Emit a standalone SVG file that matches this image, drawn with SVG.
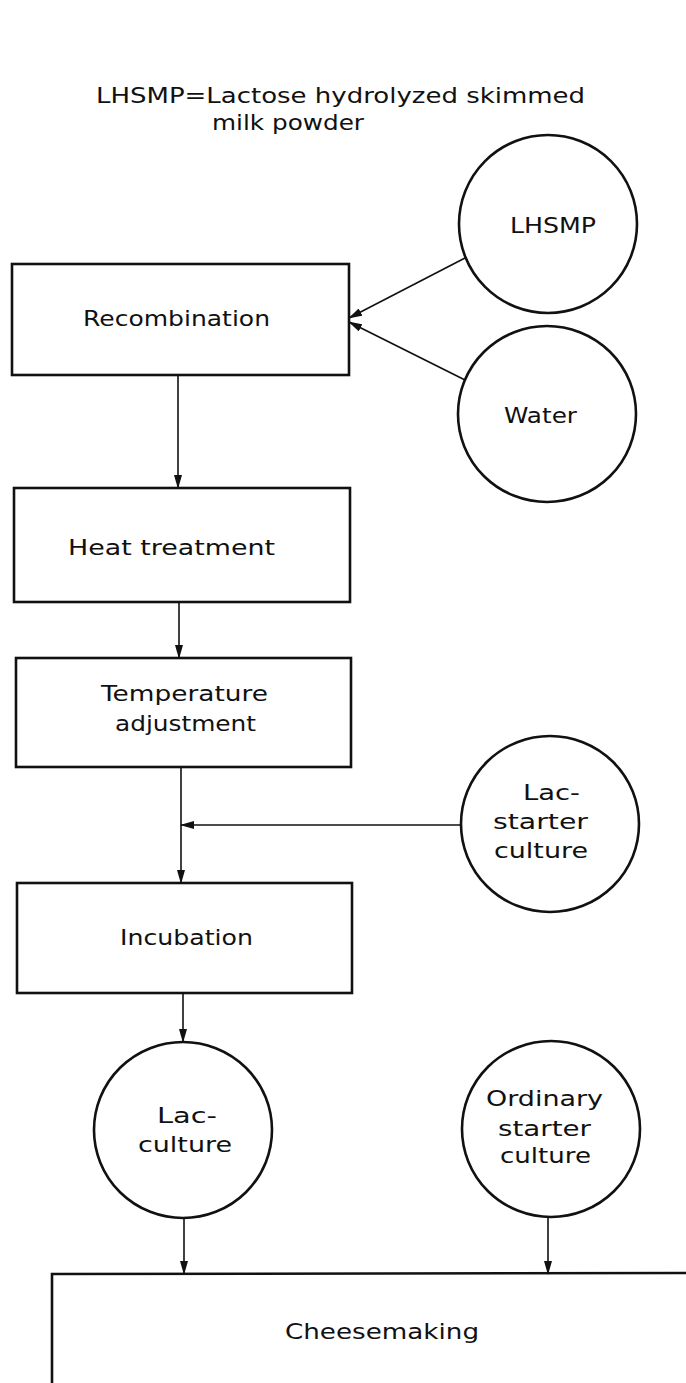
<svg xmlns="http://www.w3.org/2000/svg" width="686" height="1383" viewBox="0 0 686 1383">
<style>
.box{fill:none;stroke:#111;stroke-width:2.6}
.circ{fill:none;stroke:#111;stroke-width:2.6}
.t{font-family:"DejaVu Sans","Liberation Sans",sans-serif;font-size:22px;fill:#111}
.c{fill:none;stroke:#111;stroke-width:1.6}
</style>
<defs>
<marker id="ah" markerUnits="userSpaceOnUse" markerWidth="14" markerHeight="8" refX="13" refY="4" orient="auto">
<path d="M0,0 L14,4 L0,8 z" fill="#111"/>
</marker>
</defs>
<rect width="686" height="1383" fill="#fff"/>
<g id="legend">
<text class="t" x="96" y="103" textLength="489" lengthAdjust="spacingAndGlyphs">LHSMP=Lactose hydrolyzed skimmed</text>
<text class="t" x="212" y="130" textLength="152" lengthAdjust="spacingAndGlyphs">milk powder</text>
</g>
<g id="recombination">
<rect class="box" x="12" y="264" width="337" height="111"/>
<text class="t" x="83" y="326" textLength="187" lengthAdjust="spacingAndGlyphs">Recombination</text>
</g>
<g id="lhsmp">
<ellipse class="circ" cx="548" cy="224" rx="89" ry="89"/>
<text class="t" x="510" y="233" textLength="86" lengthAdjust="spacingAndGlyphs">LHSMP</text>
</g>
<g id="water">
<ellipse class="circ" cx="547" cy="414" rx="89" ry="88"/>
<text class="t" x="504" y="423" textLength="73" lengthAdjust="spacingAndGlyphs">Water</text>
</g>
<g id="heat">
<rect class="box" x="14" y="488" width="336" height="114"/>
<text class="t" x="68" y="555" textLength="207" lengthAdjust="spacingAndGlyphs">Heat  treatment</text>
</g>
<g id="temperature">
<rect class="box" x="16" y="658" width="335" height="109"/>
<text class="t" x="101" y="701" textLength="167" lengthAdjust="spacingAndGlyphs">Temperature</text>
<text class="t" x="115" y="731" textLength="141" lengthAdjust="spacingAndGlyphs">adjustment</text>
</g>
<g id="lacstarter">
<ellipse class="circ" cx="550" cy="824" rx="89" ry="88"/>
<text class="t" x="523" y="800" textLength="57" lengthAdjust="spacingAndGlyphs">Lac-</text>
<text class="t" x="493" y="829" textLength="95" lengthAdjust="spacingAndGlyphs">starter</text>
<text class="t" x="494" y="858" textLength="94" lengthAdjust="spacingAndGlyphs">culture</text>
</g>
<g id="incubation">
<rect class="box" x="17" y="883" width="335" height="110"/>
<text class="t" x="120" y="945" textLength="133" lengthAdjust="spacingAndGlyphs">Incubation</text>
</g>
<g id="lacculture">
<ellipse class="circ" cx="183" cy="1130" rx="89" ry="88"/>
<text class="t" x="157" y="1123" textLength="60" lengthAdjust="spacingAndGlyphs">Lac-</text>
<text class="t" x="138" y="1152" textLength="94" lengthAdjust="spacingAndGlyphs">culture</text>
</g>
<g id="ordinary">
<ellipse class="circ" cx="551" cy="1129" rx="89" ry="88"/>
<text class="t" x="486" y="1106" textLength="117" lengthAdjust="spacingAndGlyphs">Ordinary</text>
<text class="t" x="498" y="1136" textLength="93" lengthAdjust="spacingAndGlyphs">starter</text>
<text class="t" x="500" y="1163" textLength="91" lengthAdjust="spacingAndGlyphs">culture</text>
</g>
<g id="cheesemaking">
<path class="box" d="M700,1273 L52,1274 L52,1395"/>
<text class="t" x="285" y="1339" textLength="194" lengthAdjust="spacingAndGlyphs">Cheesemaking</text>
</g>
<g id="connectors">
<line class="c" x1="465" y1="258" x2="349" y2="318" marker-end="url(#ah)"/>
<line class="c" x1="465" y1="380" x2="349" y2="322" marker-end="url(#ah)"/>
<line class="c" x1="178" y1="375" x2="178" y2="488" marker-end="url(#ah)"/>
<line class="c" x1="179" y1="602" x2="179" y2="658" marker-end="url(#ah)"/>
<line class="c" x1="181" y1="767" x2="181" y2="883" marker-end="url(#ah)"/>
<line class="c" x1="460" y1="825" x2="181" y2="825" marker-end="url(#ah)"/>
<line class="c" x1="183" y1="993" x2="183" y2="1042" marker-end="url(#ah)"/>
<line class="c" x1="184" y1="1218" x2="184" y2="1274" marker-end="url(#ah)"/>
<line class="c" x1="548" y1="1217" x2="548" y2="1274" marker-end="url(#ah)"/>
</g>
</svg>
